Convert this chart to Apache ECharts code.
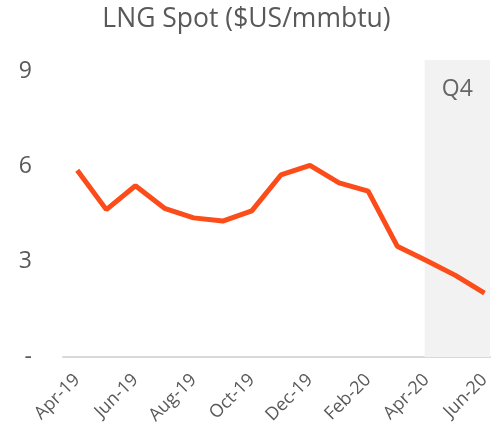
<!DOCTYPE html>
<html>
<head>
<meta charset="utf-8">
<script src="https://cdn.jsdelivr.net/npm/echarts@6/dist/echarts.min.js"></script>
<style>
  html, body { margin: 0; padding: 0; background: #fff; }
  #chart { width: 493px; height: 434px; }
</style>
</head>
<body>
<div id="chart"></div>
<script>
// monthly LNG spot price, Apr-19 .. Jun-20
const months = ['Apr-19', 'May-19', 'Jun-19', 'Jul-19', 'Aug-19', 'Sep-19', 'Oct-19', 'Nov-19',
  'Dec-19', 'Jan-20', 'Feb-20', 'Mar-20', 'Apr-20', 'May-20', 'Jun-20'];
const lngSpot = [5.88, 4.64, 5.39, 4.68, 4.38, 4.28, 4.6, 5.73, 6.03, 5.48, 5.22, 3.49, 3.04, 2.57, 2.01];
const xTicks = [0, 2, 4, 6, 8, 10, 12, 14];
const yTicks = [0, 3, 6, 9];
const shadeLabel = 'Q4';

const font = '"Open Sans", "Noto Sans", sans-serif';
let chart = echarts.init(document.getElementById('chart'));

let seriesData = lngSpot.map(function (v, i) {
  return [i, v];
});

let option = {
  animation: false,
  title: {
    text: 'LNG Spot ($US/mmbtu)',
    left: 'center',
    top: 1,
    textStyle: {
      color: '#595959',
      fontFamily: font,
      fontSize: 26.5,
      fontWeight: 'normal'
    }
  },
  grid: {
    left: 63,
    right: 0,
    top: 60,
    bottom: 77,
    containLabel: false
  },
  xAxis: {
    type: 'value',
    min: -0.49,
    max: 14.19,
    splitLine: {show: false},
    axisTick: {show: false},
    axisLine: {lineStyle: {color: '#d9d9d9', width: 2}},
    axisLabel: {
      customValues: xTicks,
      rotate: 45,
      margin: 20,
      color: '#595959',
      fontFamily: font,
      fontSize: 18,
      formatter: function (v) {
        return months[Math.round(v)];
      }
    }
  },
  yAxis: {
    type: 'value',
    min: 0,
    max: 9.35,
    splitLine: {show: false},
    axisLine: {show: false},
    axisTick: {show: false},
    axisLabel: {
      customValues: yTicks,
      margin: 31,
      color: '#595959',
      fontFamily: font,
      fontSize: 23,
      formatter: function (v) {
        return v === 0 ? '-' : String(v);
      }
    }
  },
  series: [{
    type: 'line',
    data: seriesData,
    showSymbol: false,
    lineStyle: {color: '#FC4C1A', width: 5},
    z: 3,
    markArea: {
      silent: true,
      itemStyle: {color: '#f2f2f2'},
      label: {
        show: true,
        position: 'insideTop',
        distance: 18,
        color: '#666',
        fontFamily: font,
        fontSize: 23
      },
      data: [[
        {name: shadeLabel, coord: [11.94, 9.35]},
        {coord: [14.19, 0]}
      ]]
    }
  }]
};

chart.setOption(option);
</script>
</body>
</html>
